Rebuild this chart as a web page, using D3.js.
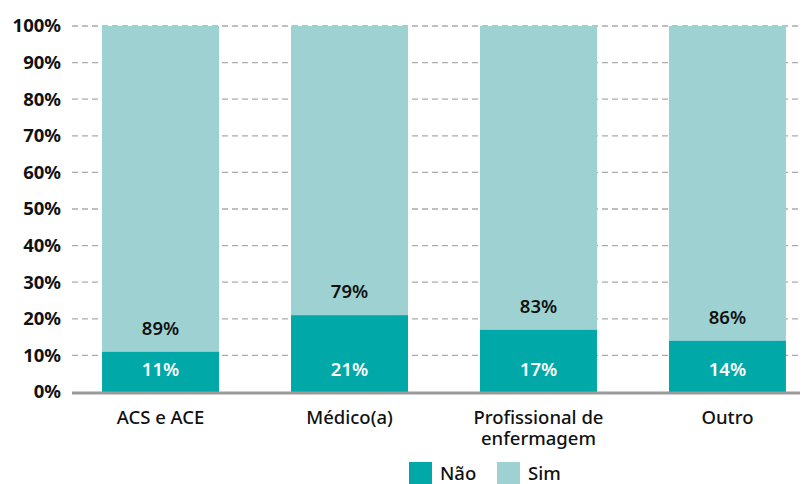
<!DOCTYPE html>
<html>
<head>
<meta charset="utf-8">
<script src="https://cdn.jsdelivr.net/npm/d3@7"></script>
<style>
  body { margin: 0; background: #fff; }
  text { font-family: "Noto Sans", "Open Sans", sans-serif; }
</style>
</head>
<body>
<div id="chart"></div>
<script>
var categories = ["ACS e ACE", "Médico(a)", "Profissional de\nenfermagem", "Outro"];
var nao = [11, 21, 17, 14];
var sim = [89, 79, 83, 86];
var yTicks = [0, 10, 20, 30, 40, 50, 60, 70, 80, 90, 100];
var series = ["Não", "Sim"];

var w = 811, h = 484;
var colNao = "#00a9a7", colSim = "#9dd1d2";

var svg = d3.select("#chart")
  .append("svg")
  .attr("width", w)
  .attr("height", h);

var x = d3.scaleBand()
  .domain(categories)
  .range([72, 816])
  .paddingInner(0.381)
  .paddingOuter(0.159);

var y = d3.scaleLinear()
  .domain([0, 100])
  .range([392, 26]);

// gridlines
svg.selectAll("line.grid")
  .data(yTicks.filter(function(d){ return d > 0; }))
  .enter()
  .append("line")
  .attr("x1", 72)
  .attr("x2", 800)
  .attr("y1", function(d){ return y(d); })
  .attr("y2", function(d){ return y(d); })
  .attr("stroke", "#aaa")
  .attr("stroke-width", 1.3)
  .attr("stroke-dasharray", "6,4");

// y labels
var yAxis = d3.axisLeft(y)
  .tickValues(yTicks)
  .tickSize(0)
  .tickPadding(11)
  .tickFormat(function(d){ return d + "%"; });

var ya = svg.append("g")
  .attr("transform", "translate(72,0)")
  .call(yAxis);
ya.select(".domain").remove();
ya.selectAll("text")
  .attr("font-size", 18.5)
  .attr("font-weight", 700)
  .attr("fill", "#111")
  .style("font-family", "'Noto Sans', sans-serif");

var rows = categories.map(function(c, i){ return { cat: c, nao: nao[i], sim: sim[i] }; });

// Sim (top)
svg.selectAll("rect.sim")
  .data(rows)
  .enter()
  .append("rect")
  .attr("x", function(d){ return x(d.cat); })
  .attr("y", function(d){ return y(d.nao + d.sim); })
  .attr("width", x.bandwidth())
  .attr("height", function(d){ return y(d.nao) - y(d.nao + d.sim); })
  .attr("fill", colSim);

// Não (bottom)
svg.selectAll("rect.nao")
  .data(rows)
  .enter()
  .append("rect")
  .attr("x", function(d){ return x(d.cat); })
  .attr("y", function(d){ return y(d.nao); })
  .attr("width", x.bandwidth())
  .attr("height", function(d){ return y(0) - y(d.nao); })
  .attr("fill", colNao);

// value labels
svg.selectAll("text.nao")
  .data(rows)
  .enter()
  .append("text")
  .attr("x", function(d){ return x(d.cat) + x.bandwidth() / 2; })
  .attr("y", 376)
  .attr("text-anchor", "middle")
  .attr("font-size", 18.5)
  .attr("font-weight", 600)
  .attr("fill", "#fff")
  .text(function(d){ return d.nao + "%"; });

svg.selectAll("text.sim")
  .data(rows)
  .enter()
  .append("text")
  .attr("x", function(d){ return x(d.cat) + x.bandwidth() / 2; })
  .attr("y", function(d){ return y(d.nao) - 17; })
  .attr("text-anchor", "middle")
  .attr("font-size", 18.5)
  .attr("font-weight", 600)
  .attr("fill", "#111")
  .text(function(d){ return d.sim + "%"; });

// baseline
svg.append("line")
  .attr("x1", 72)
  .attr("x2", 800)
  .attr("y1", y(0) + 1)
  .attr("y2", y(0) + 1)
  .attr("stroke", "#9a9a9a")
  .attr("stroke-width", 3);

// category labels
var cl = svg.selectAll("text.cat")
  .data(categories)
  .enter()
  .append("text")
  .attr("x", function(d){ return x(d) + x.bandwidth() / 2; })
  .attr("y", 424)
  .attr("text-anchor", "middle")
  .attr("font-size", 18.5)
  .attr("font-weight", 500)
  .attr("fill", "#111");
cl.selectAll("tspan")
  .data(function(d){ return d.split("\n"); })
  .enter()
  .append("tspan")
  .attr("x", function(){ var p = this.parentNode; return p.getAttribute("x"); })
  .attr("dy", function(d, i){ return i ? 21 : 0; })
  .text(function(d){ return d; });

// legend
var legend = svg.selectAll("g.leg")
  .data(series)
  .enter()
  .append("g")
  .attr("transform", function(d, i){ return "translate(" + (409 + i * 88) + ",462)"; });
legend.append("rect")
  .attr("width", 23)
  .attr("height", 22)
  .attr("fill", function(d, i){ return i ? colSim : colNao; });
legend.append("text")
  .attr("x", 31)
  .attr("y", 18)
  .attr("font-size", 18.5)
  .attr("font-weight", 500)
  .attr("fill", "#111")
  .text(function(d){ return d; });
</script>
</body>
</html>
